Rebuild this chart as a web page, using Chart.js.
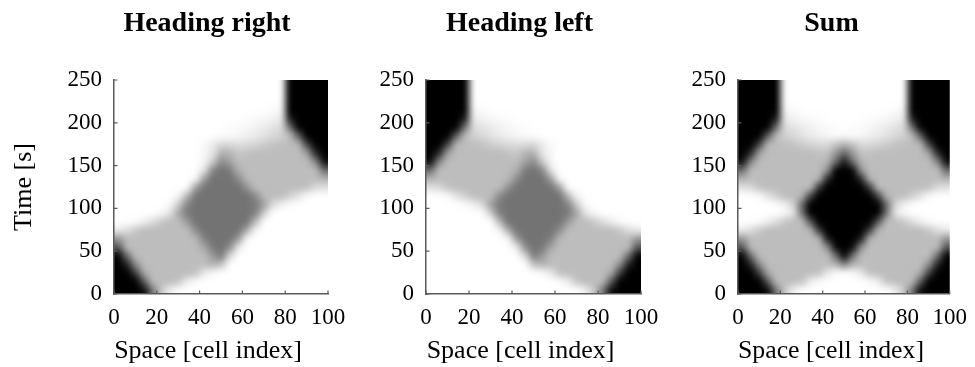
<!DOCTYPE html>
<html>
<head>
<meta charset="utf-8">
<script src="https://cdn.jsdelivr.net/npm/chart.js@4.4.1/dist/chart.umd.min.js"></script>
<style>
  html, body { margin: 0; padding: 0; background: #fff; overflow: hidden; }
  body { width: 975px; height: 367px; position: relative; }
  canvas { position: absolute; top: 0; }
</style>
</head>
<body>
<canvas id="chartRight" width="414" height="367" style="left:0px"></canvas>
<canvas id="chartLeft" width="299" height="367" style="left:370px"></canvas>
<canvas id="chartSum" width="291" height="367" style="left:686px"></canvas>
<script>
'use strict';

// centre of each 4-cell column group, centre of each 10 s row (top row first)
const spaceCenters = [2, 6, 10, 14, 18, 22, 26, 30, 34, 38, 42, 46, 50, 54, 58, 62, 66, 70, 74, 78, 82, 86, 90, 94, 98];
const timeCenters = [245, 235, 225, 215, 205, 195, 185, 175, 165, 155, 145, 135, 125, 115, 105, 95, 85, 75, 65, 55, 45, 35, 25, 15, 5];
const xTicks = [0, 20, 40, 60, 80, 100];
const yTicks = [0, 50, 100, 150, 200, 250];

// density of cars heading right, 0 = empty (white), 100 = jam (black)
const headingRight = [
  [0, 0, 0, 0, 0, 0, 0, 0, 0, 0, 0, 0, 0, 0, 0, 0, 0, 0, 0, 0, 100, 100, 100, 100, 100],
  [0, 0, 0, 0, 0, 0, 0, 0, 0, 0, 0, 0, 0, 0, 0, 0, 0, 0, 0, 0, 100, 100, 100, 100, 100],
  [0, 0, 0, 0, 0, 0, 0, 0, 0, 0, 0, 0, 0, 0, 0, 0, 0, 0, 0, 0, 100, 100, 100, 100, 100],
  [0, 0, 0, 0, 0, 0, 0, 0, 0, 0, 0, 0, 0, 0, 0, 0, 0, 0, 2, 3, 100, 100, 100, 100, 100],
  [0, 0, 0, 0, 0, 0, 0, 0, 0, 0, 0, 0, 0, 0, 0, 1, 2, 3, 5, 8, 88, 100, 100, 100, 100],
  [0, 0, 0, 0, 0, 0, 0, 0, 0, 0, 0, 0, 0, 1, 2, 3, 5, 8, 11, 14, 55, 99, 100, 100, 100],
  [0, 0, 0, 0, 0, 0, 0, 0, 0, 0, 0, 0, 1, 1, 3, 6, 8, 11, 15, 18, 26, 62, 100, 100, 100],
  [0, 0, 0, 0, 0, 0, 0, 0, 0, 0, 2, 8, 15, 15, 13, 15, 17, 20, 23, 25, 26, 27, 73, 100, 100],
  [0, 0, 0, 0, 0, 0, 0, 0, 0, 0, 3, 10, 30, 30, 21, 24, 26, 26, 26, 26, 26, 26, 36, 84, 100],
  [0, 0, 0, 0, 0, 0, 0, 0, 0, 0, 3, 20, 45, 36, 26, 26, 26, 26, 26, 26, 26, 26, 26, 47, 95],
  [0, 0, 0, 0, 0, 0, 0, 0, 0, 0, 10, 47, 55, 51, 31, 26, 26, 26, 26, 26, 26, 26, 26, 26, 58],
  [0, 0, 0, 0, 0, 0, 0, 0, 0, 2, 38, 55, 55, 55, 46, 27, 26, 26, 26, 26, 26, 26, 26, 26, 30],
  [0, 0, 0, 0, 0, 0, 0, 0, 0, 36, 55, 55, 55, 55, 55, 42, 26, 26, 26, 26, 26, 26, 24, 15, 12],
  [0, 0, 0, 0, 0, 0, 0, 3, 28, 55, 55, 55, 55, 55, 55, 55, 45, 26, 26, 26, 19, 11, 2, 0, 0],
  [0, 0, 0, 0, 0, 0, 2, 20, 48, 55, 55, 55, 55, 55, 55, 55, 52, 38, 15, 6, 1, 0, 0, 0, 0],
  [0, 0, 0, 0, 0, 2, 10, 35, 52, 55, 55, 55, 55, 55, 55, 55, 50, 20, 0, 0, 0, 0, 0, 0, 0],
  [0, 0, 1, 6, 13, 21, 26, 26, 40, 55, 55, 55, 55, 55, 55, 55, 28, 0, 0, 0, 0, 0, 0, 0, 0],
  [8, 13, 21, 26, 26, 26, 26, 26, 26, 45, 55, 55, 55, 55, 55, 33, 3, 0, 0, 0, 0, 0, 0, 0, 0],
  [40, 26, 26, 26, 26, 26, 26, 26, 26, 28, 50, 55, 55, 55, 40, 2, 0, 0, 0, 0, 0, 0, 0, 0, 0],
  [66, 26, 26, 26, 26, 26, 26, 26, 26, 26, 35, 52, 55, 45, 8, 0, 0, 0, 0, 0, 0, 0, 0, 0, 0],
  [98, 56, 26, 26, 26, 26, 26, 26, 26, 26, 26, 40, 52, 16, 0, 0, 0, 0, 0, 0, 0, 0, 0, 0, 0],
  [100, 86, 44, 26, 26, 26, 26, 26, 26, 26, 26, 30, 24, 0, 0, 0, 0, 0, 0, 0, 0, 0, 0, 0, 0],
  [100, 100, 75, 33, 26, 26, 26, 26, 26, 24, 9, 2, 0, 0, 0, 0, 0, 0, 0, 0, 0, 0, 0, 0, 0],
  [100, 100, 100, 64, 26, 26, 26, 23, 7, 1, 0, 0, 0, 0, 0, 0, 0, 0, 0, 0, 0, 0, 0, 0, 0],
  [100, 100, 100, 95, 52, 21, 6, 0, 0, 0, 0, 0, 0, 0, 0, 0, 0, 0, 0, 0, 0, 0, 0, 0, 0]
];

// heading left is the mirror image in space of heading right
const headingLeft = headingRight.map(row => row.slice().reverse());
const headingSum = headingRight.map((row, i) => row.map((v, j) => Math.min(100, v + headingLeft[i][j])));

const serif = "'Liberation Serif', 'Times New Roman', serif";
const axisColor = '#5a5a5a';

const heatmapPlugin = {
  id: 'heatmap',
  beforeDraw(chart, args, opts) {
    const grid = opts.grid;
    if (!grid) return;
    const rows = grid.length;
    const cols = grid[0].length;
    // one extra ring of edge cells so the smoothing does not fade at the axes
    const off = document.createElement('canvas');
    off.width = cols + 2;
    off.height = rows + 2;
    const octx = off.getContext('2d');
    const img = octx.createImageData(cols + 2, rows + 2);
    for (let i = 0; i < rows + 2; i++) {
      for (let j = 0; j < cols + 2; j++) {
        const v = grid[Math.min(rows - 1, Math.max(0, i - 1))][Math.min(cols - 1, Math.max(0, j - 1))];
        const g = Math.round(255 * (1 - v / 100));
        const k = (i * (cols + 2) + j) * 4;
        img.data[k] = g;
        img.data[k + 1] = g;
        img.data[k + 2] = g;
        img.data[k + 3] = 255;
      }
    }
    octx.putImageData(img, 0, 0);

    const xs = chart.scales.x;
    const ys = chart.scales.y;
    const hx = (spaceCenters[1] - spaceCenters[0]) / 2;
    const ht = (timeCenters[0] - timeCenters[1]) / 2;
    const x0 = xs.getPixelForValue(spaceCenters[0] - hx);
    const x1 = xs.getPixelForValue(spaceCenters[cols - 1] + hx);
    const y0 = ys.getPixelForValue(timeCenters[0] + ht);
    const y1 = ys.getPixelForValue(timeCenters[rows - 1] - ht);
    const cw = (x1 - x0) / cols;
    const ch = (y1 - y0) / rows;

    const ctx = chart.ctx;
    ctx.save();
    ctx.beginPath();
    ctx.rect(x0, y0, x1 - x0, y1 - y0);
    ctx.clip();
    ctx.imageSmoothingEnabled = true;
    ctx.filter = 'blur(2.5px)';
    ctx.drawImage(off, x0 - cw, y0 - ch, (cols + 2) * cw, (rows + 2) * ch);
    ctx.restore();
  },
  afterDraw(chart) {
    // inward tick marks, like the original
    const {ctx, chartArea} = chart;
    const xs = chart.scales.x;
    const ys = chart.scales.y;
    ctx.save();
    ctx.strokeStyle = axisColor;
    ctx.lineWidth = 1.2;
    ctx.beginPath();
    xTicks.forEach(v => {
      const px = xs.getPixelForValue(v);
      ctx.moveTo(px, chartArea.bottom);
      ctx.lineTo(px, chartArea.bottom - 3.5);
    });
    yTicks.forEach(v => {
      const py = ys.getPixelForValue(v);
      ctx.moveTo(chartArea.left, py);
      ctx.lineTo(chartArea.left + 3.5, py);
    });
    ctx.stroke();
    ctx.restore();
  }
};

// yWidth: room for the left axis; spacer: empty room on the right so the
// centred title sits a bit left of the plot centre, as in the original
function makeChart(id, title, grid, yTitle, yWidth, spacer) {
  return new Chart(document.getElementById(id), {
    type: 'scatter',
    data: { datasets: [] },
    options: {
      responsive: false,
      animation: false,
      layout: { padding: 0 },
      plugins: {
        legend: { display: false },
        tooltip: { enabled: false },
        title: {
          display: true,
          text: title,
          color: '#000',
          font: { family: serif, size: 28, weight: 'bold' },
          padding: { top: 6.6, bottom: 39.8 }
        },
        heatmap: { grid: grid }
      },
      scales: {
        x: {
          type: 'linear',
          min: 0,
          max: 100,
          afterBuildTicks: s => { s.ticks = xTicks.map(v => ({ value: v })); },
          afterFit: s => { s.height = 73; },
          grid: { display: false, drawTicks: false },
          border: { display: true, color: axisColor, width: 1.5 },
          ticks: { color: '#000', font: { family: serif, size: 23 }, padding: 10, maxRotation: 0, autoSkip: false },
          // trailing spaces move the centred label a little left, as in the original
          title: { display: true, text: 'Space [cell index]    ', color: '#000', font: { family: serif, size: 26 }, padding: 0 }
        },
        y: {
          type: 'linear',
          min: 0,
          max: 250,
          afterBuildTicks: s => { s.ticks = yTicks.map(v => ({ value: v })); },
          afterFit: s => { s.width = yWidth; },
          grid: { display: false, drawTicks: false },
          border: { display: true, color: axisColor, width: 1.5 },
          ticks: { color: '#000', font: { family: serif, size: 23 }, padding: 12 },
          title: {
            display: !!yTitle,
            text: yTitle || '',
            color: '#000',
            font: { family: serif, size: 26 },
            padding: { top: 9, bottom: 0 }
          }
        },
        spacer: {
          type: 'linear',
          position: 'right',
          min: 0,
          max: 1,
          afterFit: s => { s.width = spacer; },
          grid: { display: false, drawTicks: false },
          border: { display: false },
          ticks: { display: false }
        }
      }
    },
    plugins: [heatmapPlugin]
  });
}

makeChart('chartRight', 'Heading right', headingRight, 'Time [s]', 114, 86);
makeChart('chartLeft', 'Heading left', headingLeft, null, 56, 28);
makeChart('chartSum', 'Sum', headingSum, null, 52, 24);
</script>
</body>
</html>
